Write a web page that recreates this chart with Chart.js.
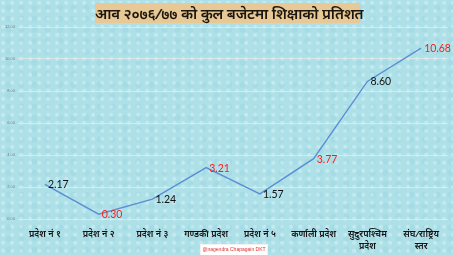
<!DOCTYPE html>
<html>
<head>
<meta charset="utf-8">
<script src="https://cdn.jsdelivr.net/npm/chart.js"></script>
<style>
  html, body { margin: 0; padding: 0; }
  body {
    width: 453px; height: 255px; overflow: hidden; position: relative;
    background-color: #aee0e8;
    background-image:
      radial-gradient(circle at 35% 35%, rgba(255,255,255,0.28) 0 1.5px, transparent 2.5px),
      radial-gradient(circle at 65% 70%, rgba(120,195,212,0.18) 0 2.5px, transparent 3.5px);
    background-size: 9px 8px, 13px 11px;
  }
  #wrap { position: absolute; left: 0; top: 0; width: 453px; height: 255px; }
  #title {
    position: absolute; left: 95px; top: 3px; width: 265px; height: 20px;
    background: #e8c894; color: #1a1610; font-style: italic; font-weight: 600;
    font-family: "Noto Sans", sans-serif; font-size: 15px; line-height: 20px;
    text-align: center; white-space: nowrap; letter-spacing: -0.2px;
  }
  #credit {
    position: absolute; left: 201px; top: 245px; width: 66px; height: 10px;
    background: #fff; color: #e03030; font-family: "Liberation Sans", sans-serif;
    font-size: 5px; line-height: 9px; text-align: center; white-space: nowrap;
    box-shadow: 0 0 0 1px #f2f2f2;
  }
</style>
</head>
<body>
<div id="wrap"><canvas id="chart" width="453" height="255"></canvas></div>
<div id="title">आव २०७६/७७ को कुल बजेटमा शिक्षाको प्रतिशत</div>
<div id="credit">@nagendra Chapagain DKT</div>
<script>
// categories (two-line labels where the original wraps)
const provinces = [
    'प्रदेश नं १',
    'प्रदेश नं २',
    'प्रदेश नं ३',
    'गण्डकी प्रदेश',
    'प्रदेश नं ५',
    'कर्णाली प्रदेश',
    ['सुदुरपश्चिम', 'प्रदेश'],
    ['संघ/राष्ट्रिय', 'स्तर']
];
// share of education in total budget, percent
const educationShare = [2.17, 0.30, 1.24, 3.21, 1.57, 3.77, 8.60, 10.68];
// which value labels are shown in red
const highlighted = [false, true, false, true, false, true, false, true];
const yMax = 12;
const yStep = 2;

// value labels right of each point, placed from the dataset's own elements
const valueLabels = {
    id: 'valueLabels',
    afterDatasetsDraw(chart) {
        const c = chart.ctx;
        const meta = chart.getDatasetMeta(0);
        c.save();
        c.font = '10.5px Lato, "Open Sans", sans-serif';
        c.textAlign = 'left';
        c.textBaseline = 'middle';
        meta.data.forEach((pt, i) => {
            c.fillStyle = highlighted[i] ? '#ff1a1a' : '#111111';
            c.fillText(educationShare[i].toFixed(2), pt.x + 3, pt.y + 0.5);
        });
        c.restore();
    }
};

const ctx = document.getElementById('chart').getContext('2d');
new Chart(ctx, {
    type: 'line',
    data: {
        labels: provinces,
        datasets: [{
            data: educationShare,
            borderColor: '#5b8fd3',
            borderWidth: 1.4,
            pointRadius: 0,
            tension: 0,
            fill: false
        }]
    },
    options: {
        responsive: false,
        animation: false,
        devicePixelRatio: 1,
        layout: { padding: { top: 27, right: 5, bottom: 0, left: 0 } },
        plugins: { legend: { display: false }, tooltip: { enabled: false } },
        scales: {
            x: {
                offset: true,
                grid: { display: false, drawTicks: false },
                border: { display: false },
                ticks: {
                    padding: 9,
                    maxRotation: 0,
                    autoSkip: false,
                    color: '#121212',
                    font: { family: '"Noto Sans", sans-serif', size: 9, style: 'italic', weight: '600', lineHeight: 1.35 }
                },
                afterFit: s => { s.height = 36; }
            },
            y: {
                min: 0,
                max: yMax,
                grid: { color: 'rgba(225,232,234,0.85)', lineWidth: 1, drawTicks: false },
                border: { display: false },
                ticks: {
                    stepSize: yStep,
                    padding: 3,
                    color: '#6a7a80',
                    font: { family: '"Liberation Sans", sans-serif', size: 4 },
                    callback: v => v.toFixed(2)
                },
                afterFit: s => { s.width = 18; }
            }
        }
    },
    plugins: [valueLabels]
});
</script>
</body>
</html>
